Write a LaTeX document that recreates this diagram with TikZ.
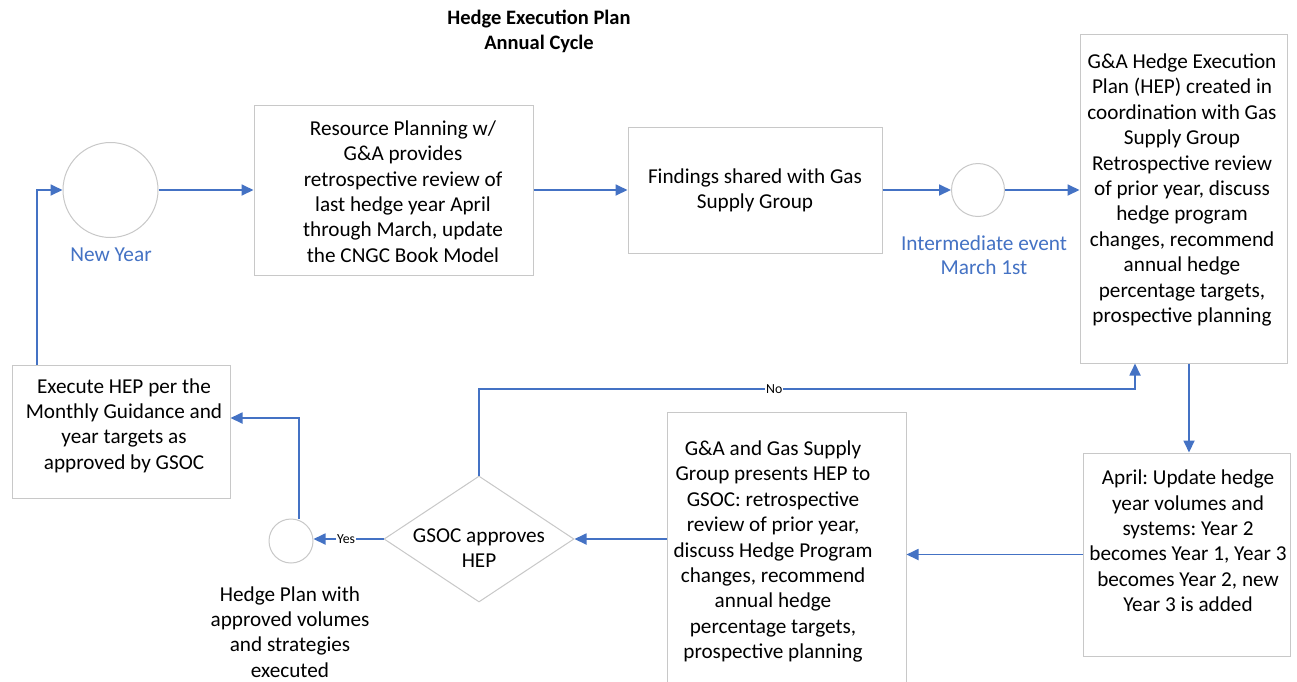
\documentclass[tikz,border=0pt]{standalone}
\usepackage{fontspec}
\setmainfont{Carlito}
\frenchspacing
\usetikzlibrary{shapes.geometric,arrows.meta}
\definecolor{flowblue}{RGB}{68,114,196}
\definecolor{boxgray}{RGB}{200,200,200}
\tikzset{
  box/.style={draw=boxgray, line width=1pt, fill=white, inner sep=0pt},
  txt/.style={align=center, inner sep=0pt, font=\fontsize{21.2}{25.4}\selectfont, text=black},
  bluetxt/.style={align=center, inner sep=0pt, font=\fontsize{21.3}{24}\selectfont, text=flowblue},
  ttl/.style={align=center, inner sep=0pt, font=\bfseries\fontsize{20.5}{25}\selectfont},
  evt/.style={circle, draw=boxgray, line width=1pt, fill=white, inner sep=0pt},
  arr/.style={draw=flowblue, line width=1.8pt, -{Triangle[length=12pt,width=11pt]}},
  lbl/.style={fill=white, inner sep=1pt, font=\fontsize{13.8}{15}\selectfont, text=black}
}
\begin{document}
\begin{tikzpicture}[x=1pt,y=-1pt]
\clip (0,0) rectangle (1297,681);
\fill[white] (0,0) rectangle (1297,681);

% title
\node[ttl] (title) at (539,31) {Hedge Execution Plan\\Annual Cycle};

% events
\node[evt, minimum size=95pt] (ny) at (110.5,190) {};
\node[bluetxt] (nylbl) at (111,255) {New Year};
\node[evt, minimum size=53pt] (ie) at (978,190) {};
\node[bluetxt] (ielbl) at (984,255) {Intermediate event\\March 1st};
\node[evt, minimum size=44pt] (hp) at (291,541) {};
\node[txt] (hplbl) at (290,632) {Hedge Plan with\\approved volumes\\and strategies\\executed};

% boxes
\node[box, minimum width=279pt, minimum height=170pt] (b1) at (393.5,190) {};
\node[txt] (b1t) at (403,191.5) {Resource Planning w/\\G\&A provides\\retrospective review of\\last hedge year April\\through March, update\\the CNGC Book Model};

\node[box, minimum width=254pt, minimum height=126pt] (b2) at (755,190) {};
\node[txt] (b2t) at (755,190.5) {Findings shared with Gas\\Supply Group};

\node[box, minimum width=207pt, minimum height=329pt] (b3) at (1183.5,198.5) {};
\node[txt] (b3t) at (1182,190) {G\&A Hedge Execution\\Plan (HEP) created in\\coordination with Gas\\Supply Group\\Retrospective review\\of prior year, discuss\\hedge program\\changes, recommend\\annual hedge\\percentage targets,\\prospective planning};

\node[box, minimum width=207pt, minimum height=203pt] (b4) at (1186.5,554.5) {};
\node[txt] (b4t) at (1188,541) {April: Update hedge\\year volumes and\\systems: Year 2\\becomes Year 1, Year 3\\becomes Year 2, new\\Year 3 is added};

\node[box, minimum width=239pt, minimum height=300pt] (b5) at (786.5,562) {};
\node[txt] (b5t) at (773,551.5) {G\&A and Gas Supply\\Group presents HEP to\\GSOC: retrospective\\review of prior year,\\discuss Hedge Program\\changes, recommend\\annual hedge\\percentage targets,\\prospective planning};

\node[box, minimum width=218pt, minimum height=133pt] (ex) at (121,431.5) {};
\node[txt] (ext) at (124,425.5) {Execute HEP per the\\Monthly Guidance and\\year targets as\\approved by GSOC};

% decision
\node[box, diamond, minimum width=190pt, minimum height=126pt] (d) at (479,539) {};
\node[txt] (dt) at (479,548) {GSOC approves\\HEP};

% connectors
\draw[arr] (ny.east) -- (ny.east -| b1.west);
\draw[arr] (b1.east |- b2.west) -- (b2.west);
\draw[arr] (b2.east) -- (ie.west);
\draw[arr] (ie.east) -- (ie.east -| b3.west);
\draw[arr] ([xshift=5.5pt]b3.south) -- ([xshift=5.5pt]b3.south |- b4.north);
\draw[arr] (b4.west) -- (b4.west -| b5.east);
\draw[arr] (d.east -| b5.west) -- (d.east);
\draw[arr] (d.west) -- node[lbl, pos=0.535] {Yes} (d.west -| hp.east);
\draw[arr] (hp.north -| 299,0) |- ([yshift=13.5pt]ex.east);
\draw[arr] ([xshift=-84pt]ex.north) |- (ny.west);
\coordinate (nocorner) at (1135,389);
\draw[arr] (d.north) |- node[lbl, pos=0.725] {No} (nocorner) -- (nocorner |- b3.south);
\end{tikzpicture}
\end{document}
